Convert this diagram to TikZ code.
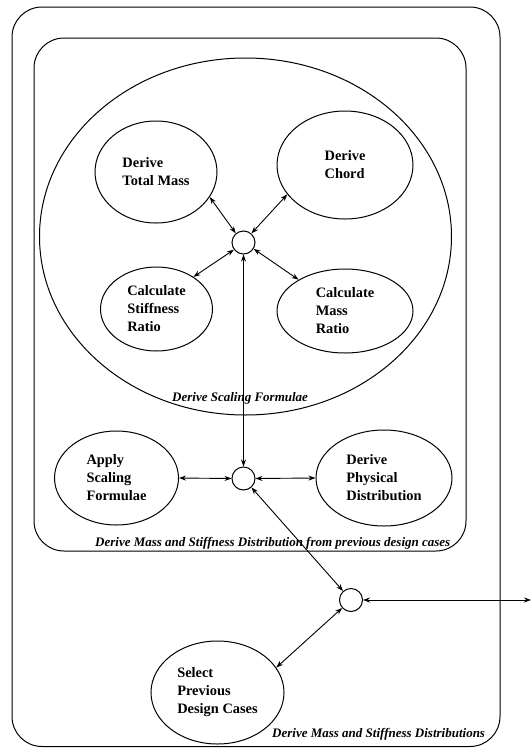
\documentclass[tikz,border=0pt]{standalone}
\usepackage{fontspec}
\setmainfont{Liberation Serif}
\usetikzlibrary{shapes.geometric,arrows.meta}
\begin{document}
\begin{tikzpicture}[x=1pt,y=-1pt,
  >={Stealth[length=7pt,width=5pt]},
  proc/.style={draw, ellipse, line width=1pt, inner sep=0pt, align=left,
    font=\fontsize{14.4}{18}\selectfont\bfseries},
  junc/.style={draw, circle, line width=1pt, minimum size=23pt, inner sep=0pt},
  frame/.style={draw, line width=1pt, rounded corners=30pt, inner sep=0pt},
  lbl/.style={inner sep=0pt, anchor=base west,
    font=\fontsize{13}{15}\selectfont\bfseries\itshape},
  link/.style={line width=0.9pt, <->}]
\useasboundingbox (0,0) rectangle (531,748);

% containers
\node[frame, minimum width=488pt, minimum height=739.5pt] (outer) at (256,376.75) {};
\node[frame, minimum width=432pt, minimum height=513pt] (inner) at (250,294.5) {};
\node[draw, ellipse, line width=1pt, inner sep=0pt, minimum width=412pt, minimum height=357pt] (sf) at (245.5,236.5) {};

% processes
\node[proc, minimum width=122pt, minimum height=102pt] (tm) at (156,172) {Derive\\Total Mass};
\node[proc, minimum width=136pt, minimum height=108pt] (ch) at (345,165) {Derive\\Chord};
\node[proc, minimum width=112pt, minimum height=84pt] (sr) at (156.5,309) {Calculate\\Stiffness\\Ratio};
\node[proc, minimum width=136pt, minimum height=84pt] (mr) at (345,311) {Calculate\\Mass\\Ratio};
\node[proc, minimum width=124pt, minimum height=94pt] (ap) at (116.5,478) {Apply\\Scaling\\Formulae};
\node[proc, minimum width=136pt, minimum height=96pt] (pd) at (384,478) {Derive\\Physical\\Distribution};
\node[proc, minimum width=133pt, minimum height=103pt] (sel) at (217.5,692.5) {Select\\Previous\\Design Cases};

% junctions
\node[junc] (c1) at (243.5,242.5) {};
\node[junc] (c2) at (243.5,478.5) {};
\node[junc] (c3) at (351,600) {};
\coordinate (re) at (531,600);

% connectors
\draw[link] (tm.-25) -- (c1.130);
\draw[link] (ch.-153) -- (c1.49);
\draw[link] (sr.41) -- (c1.-143);
\draw[link] (mr.146) -- (c1.-32);
\draw[link] (c1.south) -- (c2.north);
\draw[link] (ap.east) -- (c2.west);
\draw[link] (c2.east) -- (pd.west);
\draw[link] (c2) -- (c3);
\draw[link] (c3.-138) -- (sel.23);
\draw[link] (c3.east) -- (re);

% labels
\node[lbl] (lsf) at (172,401) {Derive Scaling Formulae};
\node[lbl] (lin) at (95,546) {Derive Mass and Stiffness Distribution from previous design cases};
\node[lbl] (lout) at (272,737) {Derive Mass and Stiffness Distributions};
\end{tikzpicture}
\end{document}
